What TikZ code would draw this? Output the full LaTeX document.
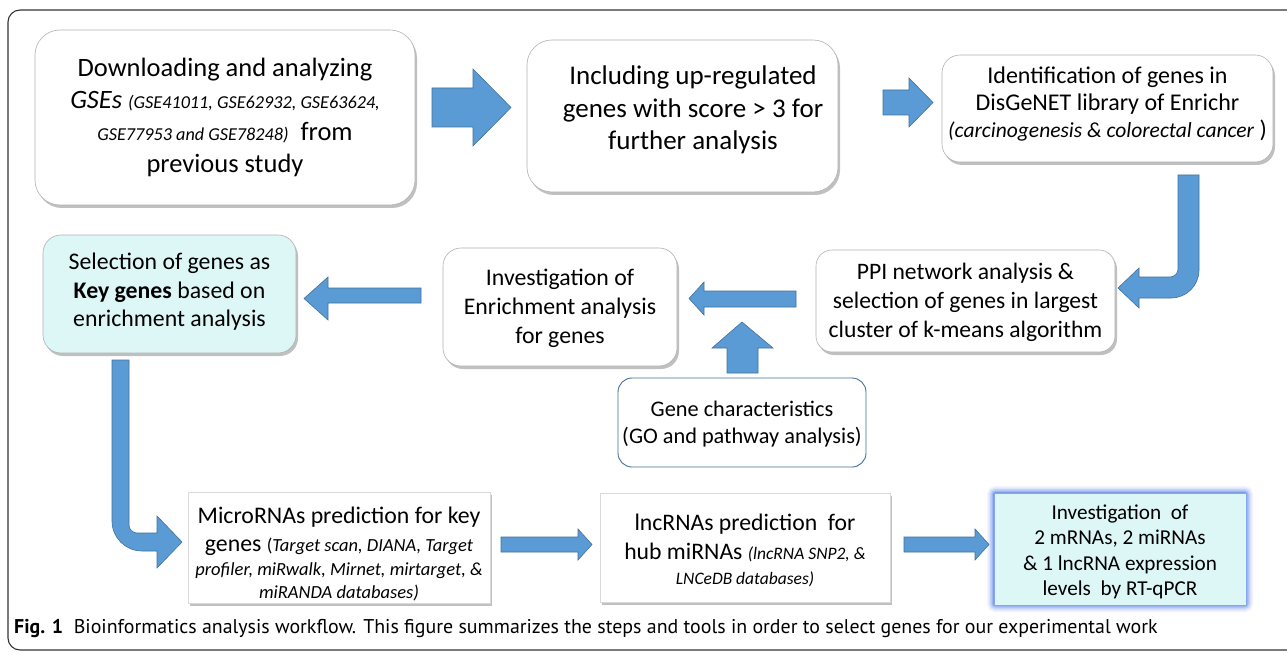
\documentclass[tikz,border=0pt]{standalone}
\usepackage{fontspec}
\setmainfont{Carlito}
\newfontfamily\capfont{PT Sans}
\usetikzlibrary{shadows}
\definecolor{arrowblue}{HTML}{5B9BD5}
\definecolor{arrowedge}{HTML}{41719C}
\definecolor{lightcyan}{HTML}{DDF6F6}
\definecolor{glowblue}{HTML}{4F7FE8}
\newcommand{\fs}[2]{\fontsize{#1}{#2}\selectfont}
\begin{document}
\begin{tikzpicture}[x=1pt,y=-1pt,
  box/.style={draw=black!30, line width=0.6pt, fill=white, rounded corners=#1, inner sep=0pt, outer sep=0pt,
    drop shadow={shadow xshift=2pt, shadow yshift=-3pt, opacity=0.35, fill=black!70}},
  box/.default=22pt,
  sqbox/.style={draw=black!15, line width=0.6pt, fill=white, inner sep=0pt, outer sep=0pt,
    drop shadow={shadow xshift=2pt, shadow yshift=-3pt, opacity=0.35, fill=black!70}},
  txt/.style={align=center, inner sep=0pt, text=black},
  barrow/.style={fill=arrowblue, draw=arrowedge, line width=0.6pt, line join=miter}]
\useasboundingbox (0,0) rectangle (1287,655);
\fill[white] (0,0) rectangle (1287,655);
% outer frame
\draw[black!80, line width=1.1pt, rounded corners=12pt] (8,10) rectangle (1310,650);

% boxes
\node[box=25pt, minimum width=380pt, minimum height=175pt] (b1) at (225,117.5) {};
\node[box=25pt, minimum width=311pt, minimum height=152pt] (b2) at (682.5,116) {};
\node[box=18pt, minimum width=331pt, minimum height=107pt] (b3) at (1107.5,108.5) {};
\node[box=16pt, minimum width=299pt, minimum height=102pt] (b4) at (965.5,301) {};
\node[box=18pt, minimum width=234pt, minimum height=118pt] (b5) at (560,307) {};
\node[box=18pt, fill=lightcyan, minimum width=253pt, minimum height=118pt] (b6) at (169.5,294) {};
\node[draw=arrowedge, line width=0.9pt, fill=white, rounded corners=14pt, inner sep=0pt,
      minimum width=248pt, minimum height=89pt] (b7) at (742,422.5) {};
\node[sqbox, minimum width=302pt, minimum height=111pt] (b8) at (339,547.5) {};
\node[sqbox, minimum width=290pt, minimum height=109pt] (b9) at (745,547.5) {};
% glowing box
\foreach \g/\o in {7/0.08,5.5/0.12,4/0.18,2.5/0.28,1.2/0.45}{
  \draw[glowblue, line width=2*\g pt, opacity=\o, rounded corners=2pt] (994,493) rectangle (1246,605);
}
\node[fill=lightcyan, draw=glowblue!70, line width=0.8pt, inner sep=0pt,
      minimum width=252pt, minimum height=112pt] (b10) at (1120,549) {};

% texts
\node[txt, font=\fs{26.5}{32}] (t1) at (225,117) {Downloading and analyzing\\
  \textit{GSEs} {\fs{18.2}{32}\itshape (GSE41011, GSE62932, GSE63624,}\\
  {\fs{18.2}{32}\itshape GSE77953 and GSE78248)}\ \ from\\
  previous study};
\node[txt, font=\fs{27}{32.5}] (t2) at (693,110) {Including up-regulated\\genes with score > 3 for\\further analysis};
\node[txt, font=\fs{24}{27}] (t3) at (1107.5,104) {Identification of genes in\\DisGeNET library of Enrichr\\
  {\fs{21.5}{27}\itshape (carcinogenesis \& colorectal cancer} )};
\node[txt, font=\fs{23.6}{29}] (t4) at (965.5,302) {PPI network analysis \&\\selection of genes in largest\\cluster of k-means algorithm};
\node[txt, font=\fs{23.8}{29}] (t5) at (560,308) {Investigation of\\Enrichment analysis\\for genes};
\node[txt, font=\fs{23.8}{28.5}] (t6) at (169.5,292) {Selection of genes as\\\textbf{Key genes} based on\\enrichment analysis};
\node[txt, font=\fs{22.3}{27}] (t7) at (742,424) {Gene characteristics\\(GO and pathway analysis)};
\node[txt, font=\fs{23.8}{23.5}] (t8) at (339,554) {MicroRNAs prediction for key\\[5pt]
  genes {\fs{18.5}{23.5}(\itshape Target scan, DIANA, Target}\\
  {\fs{18.5}{23.5}\itshape profiler, miRwalk, Mirnet, mirtarget, \&}\\
  {\fs{18.5}{23.5}\itshape miRANDA databases)}};
\node[txt, font=\fs{23.7}{25}] (t9) at (745,550) {lncRNAs prediction\ \ for\\[4pt]
  hub miRNAs {\fs{17.5}{25}\itshape (lncRNA SNP2, \&}\\
  {\fs{17.5}{25}\itshape LNCeDB databases)}};
\node[txt, font=\fs{21.2}{25.3}] (t10) at (1120,552) {Investigation\ \ of\\2 mRNAs, 2 miRNAs\\\& 1 lncRNA expression\\levels\ \ by RT-qPCR};

% block arrows
\path[barrow] (432,88) -- (473,88) -- (473,69) -- (511,107.5) -- (473,146) -- (473,127) -- (432,127) -- cycle;
\path[barrow] (883,90) -- (909,90) -- (909,78) -- (933,102.5) -- (909,127) -- (909,115) -- (883,115) -- cycle;
\path[barrow] (1178,175) -- (1199,175) -- (1199,270) .. controls (1199,285.5) and (1186.5,298) .. (1171,298)
  -- (1139,298) -- (1139,308) -- (1118,288) -- (1139,268) -- (1139,277) -- (1170,277)
  .. controls (1174.4,277) and (1178,273.4) .. (1178,269) -- cycle;
\path[barrow] (796,291) -- (704,291) -- (704,282) -- (689,298.5) -- (704,315) -- (704,307) -- (796,307) -- cycle;
\path[barrow] (727,373) -- (727,348) -- (712,348) -- (742,322) -- (773,348) -- (758,348) -- (758,373) -- cycle;
\path[barrow] (421,288) -- (328,288) -- (328,277) -- (304,298.5) -- (328,320) -- (328,303) -- (421,303) -- cycle;
\path[barrow] (112,360) -- (129,360) -- (129,525) .. controls (129,529.4) and (132.6,533) .. (137,533)
  -- (157,533) -- (157,516) -- (182,542) -- (157,568) -- (157,551) -- (142,551)
  .. controls (125.4,551) and (112,537.6) .. (112,521) -- cycle;
\path[barrow] (501,537) -- (578,537) -- (578,529) -- (592,544.5) -- (578,560) -- (578,552) -- (501,552) -- cycle;
\path[barrow] (904,537) -- (975,537) -- (975,529) -- (989,544.5) -- (975,560) -- (975,552) -- (904,552) -- cycle;

% caption
\node[anchor=west, inner sep=0pt, font=\capfont\fs{19.9}{22}] (cap) at (14,629) {\textbf{Fig. 1}\ \ Bioinformatics analysis workflow. This figure summarizes the steps and tools in order to select genes for our experimental work};
\end{tikzpicture}
\end{document}
